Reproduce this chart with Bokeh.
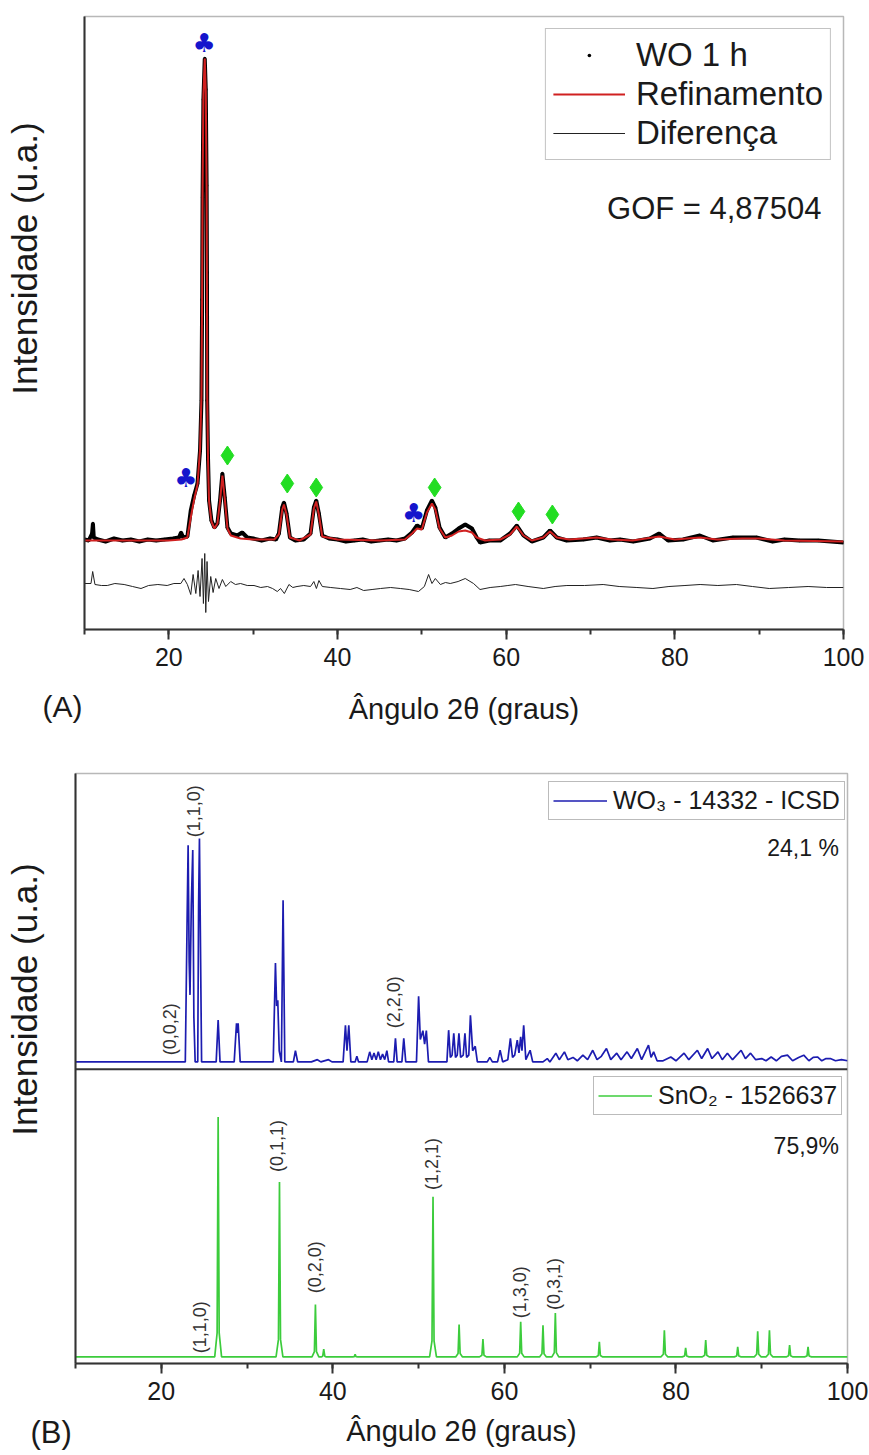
import math
from bokeh.plotting import figure
from bokeh.models import (Range1d, SingleIntervalTicker, FixedTicker, Label,
                          Legend, LegendItem, Span)
from bokeh.layouts import column, row
from bokeh.core.properties import value
from bokeh.embed import file_html
from bokeh.resources import INLINE

FONT = "Liberation Sans"
TXT = "#1a1a1a"
AX = "#333333"

# ---------------- Panel A data (2theta, intensity u.a.) ----------------
obs_x = [10.0, 10.5, 10.9, 11.0, 11.1, 11.6, 12.5, 13.5, 14.5, 15.5, 16.5, 17.5, 18.5, 19.5,
         20.5, 21.2, 21.45, 21.7, 22.2, 22.6, 23.0, 23.4, 23.7, 23.87, 23.95, 24.0, 24.1,
         24.26, 24.38, 24.48, 24.52, 24.55, 24.65, 24.77, 25.05, 25.4, 25.76, 26.07, 26.35,
         26.63, 26.95, 27.35, 28.1, 28.7, 29.3, 30.0, 31.0, 32.0, 32.7, 33.05, 33.45, 33.65,
         33.96, 34.36, 35.0, 36.0, 36.8, 37.2, 37.48, 37.79, 38.19, 39.0, 40.0, 41.0, 42.0,
         43.0, 44.0, 45.0, 46.0, 47.0, 48.0, 48.84, 49.43, 50.0, 50.6, 51.2, 51.6, 52.1,
         52.78, 53.57, 54.36, 55.15, 55.94, 56.5, 56.9, 58.0, 59.3, 60.47, 61.26, 62.05,
         63.04, 64.4, 65.2, 66.0, 67.18, 69.15, 70.73, 72.3, 73.5, 75.07, 77.04, 78.14, 79.2,
         80.98, 82.96, 84.5, 86.9, 89.67, 91.6, 93.0, 94.8, 97.0, 100.0]
obs_y = [90, 89, 96, 106, 92, 90, 88, 91, 89, 90, 88, 90, 89, 90,
         91, 92, 97, 92, 93, 119, 134, 146, 179, 229, 330, 432, 530,
         571, 540, 444, 357, 229, 170, 129, 109, 102, 106, 129, 156,
         132, 102, 96, 94, 97, 92, 91, 89, 91, 90, 96, 122, 127,
         116, 92, 89, 90, 96, 122, 129, 116, 94, 91, 90, 88, 89,
         90, 88, 89, 90, 89, 91, 97, 104, 101, 119, 129, 122, 102,
         92, 96, 101, 105, 101, 92, 87, 89, 89, 96, 104, 94,
         88, 92, 99, 92, 89, 90, 92, 89, 90, 88, 91, 96, 89,
         90, 94, 89, 92, 92, 88, 90, 89, 89, 87]

calc_x = [10.0, 15.0, 20.0, 21.5, 22.2, 22.6, 23.0, 23.4, 23.7, 23.87, 23.95, 24.0, 24.1,
          24.26, 24.38, 24.48, 24.52, 24.55, 24.65, 24.77, 25.05, 25.4, 25.76, 26.07, 26.35,
          26.63, 26.95, 27.35, 28.5, 30.0, 32.5, 33.05, 33.45, 33.65, 33.96, 34.36, 35.5,
          36.8, 37.2, 37.48, 37.79, 38.19, 40.0, 45.0, 48.0, 48.84, 49.43, 50.0, 50.6, 51.2,
          51.6, 52.1, 52.78, 53.57, 54.36, 55.15, 55.94, 56.5, 57.5, 59.3, 60.47, 61.26,
          62.05, 63.04, 64.4, 65.2, 66.0, 67.5, 70.73, 72.5, 75.0, 78.14, 80.0, 83.0, 85.0,
          88.0, 90.0, 93.0, 100.0]
calc_y = [89, 89, 89, 90, 92, 112, 130, 145, 180, 235, 340, 440, 535,
          571, 538, 440, 350, 235, 168, 128, 108, 101, 106, 128, 154,
          131, 101, 94, 91, 90, 90, 95, 120, 125, 115, 92, 89,
          95, 121, 128, 115, 93, 90, 89, 90, 96, 101, 100, 117, 126,
          120, 101, 92, 94, 98, 99, 97, 92, 89, 90, 95, 103,
          94, 89, 92, 98, 92, 90, 92, 90, 89, 93, 90, 92, 90,
          91, 91, 89, 88]

diff_x = [10.0, 10.77, 10.97, 11.24, 12.0, 12.7, 13.6, 14.7, 15.7, 16.7, 17.6, 18.7, 19.8,
          20.6, 21.42, 21.8, 22.2, 22.6, 22.88, 23.2, 23.47, 23.7, 23.94, 24.1, 24.26, 24.38,
          24.53, 24.7, 24.97, 25.25, 25.56, 25.95, 26.35, 26.75, 27.34, 27.9, 28.5, 29.3,
          30.1, 30.9, 31.7, 32.3, 32.86, 33.25, 33.7, 34.24, 34.7, 35.2, 36.0, 36.8, 37.2,
          37.5, 37.8, 38.2, 39.2, 40.35, 41.5, 42.3, 43.1, 44.1, 45.1, 46.3, 47.45, 48.5,
          49.6, 50.3, 50.8, 51.2, 51.6, 52.2, 52.8, 53.37, 54.3, 55.15, 56.13, 56.9, 58.1,
          59.3, 60.2, 61.1, 62.6, 64.4, 65.8, 67.2, 69.3, 71.5, 73.4, 75.5, 77.4, 79.3,
          81.2, 83.0, 85.1, 87.3, 89.2, 91.2, 93.5, 95.8, 98.0, 100.0]
diff_y = [1, 1, 13, 0, -1, -1, 1, 0, -2, -4, -1, 0, -1,
          1, 1, 6, 0, -10, 10, -9, 14, -12, 26, -19, 31, -28,
          23, -17, 8, -8, 6, -4, 5, -2, 3, 0, 1, -1,
          -1, -3, -2, -4, -7, -4, -9, 0, -3, -2, -1, -2, 3,
          -4, 4, -2, -3, -4, -5, -3, -6, -5, -4, -3, -4, -5,
          -7, -2, 10, 1, 6, 0, 2, 1, 3, 6, 1, -5, -3,
          -2, -1, 0, -2, -4, -2, -1, -1, 0, -2, -3, -4, -2,
          -1, 0, -1, 0, -2, -4, -3, -2, -3, -3]

club_x = [24.18, 22.01, 49.03]
club_y = [587, 152, 117]
diam_x = [26.95, 34.05, 37.48, 51.52, 61.46, 65.48]
diam_y = [174, 146, 142, 142, 118, 115]

# ---------------- Panel B data (relative intensity, %) ----------------
wo3_x = [10.0, 22.8, 23.0, 23.13, 23.25, 23.35, 23.5, 23.67, 23.8, 23.95, 24.25, 24.35, 24.45,
         24.55, 24.7, 26.4, 26.63, 26.85, 28.5, 28.77, 28.87, 28.96, 29.2, 33.05, 33.31, 33.45,
         33.58, 33.75, 34.0, 34.2, 34.4, 35.4, 35.64, 35.9, 37.5, 38.2, 38.6, 39.5, 39.9,
         41.2, 41.47, 41.65, 41.86, 42.1, 42.6, 42.8, 43.0, 44.0, 44.3, 44.55, 44.8, 45.05,
         45.3, 45.55, 45.8, 46.05, 46.3, 46.5, 47.1, 47.3, 47.5, 48.05, 48.27, 48.5, 49.75,
         50.0, 50.2, 50.5, 50.7, 50.9, 51.15, 53.3, 53.5, 53.7, 53.9, 54.1, 54.3, 54.5, 54.7,
         54.9, 55.2, 55.4, 55.6, 55.85, 56.04, 56.3, 56.6, 56.85, 58.0, 58.3, 58.6, 59.2,
         59.5, 59.8, 60.4, 60.7, 60.95, 61.2, 61.5, 61.7, 61.9, 62.05, 62.25, 62.5, 63.0,
         63.3, 64.5, 65.0, 65.3, 66.0, 66.4, 67.0, 67.4, 68.0, 68.5, 69.15, 69.7, 70.3, 70.8,
         71.3, 71.9, 72.4, 73.1, 73.6, 74.3, 74.8, 75.5, 76.0, 76.8, 77.1, 77.4, 77.8, 78.5,
         79.4, 80.0, 80.95, 81.5, 82.5, 83.0, 83.7, 84.2, 84.9, 85.4, 86.0, 86.6, 87.6, 88.1,
         88.7, 89.3, 90.0, 90.5, 91.1, 91.7, 92.3, 93.0, 93.6, 94.3, 94.9, 95.5, 96.0, 96.5,
         97.0, 97.5, 98.0, 98.6, 99.3, 100.0]
wo3_y = [0, 0, 60, 97, 45, 30, 70, 94.8, 20, 0, 0, 70, 100,
         60, 0, 0, 18.7, 0, 0, 17.3, 13, 17.3, 0, 0, 44.3, 25,
         27.6, 5, 0, 72.4, 0, 0, 5, 0, 0, 1, 0, 1, 0,
         0, 16.4, 5, 16.4, 0, 0, 2.5, 0, 0, 4.5, 1, 4.0, 1,
         4.5, 1, 3.5, 1, 5, 0, 0, 10.6, 0, 0, 10.6, 0, 0,
         29.4, 10, 14, 8, 14, 0, 0, 14.2, 2, 3, 12.8, 2, 3, 12.8,
         2, 3, 12.8, 2, 3, 20.9, 5, 7, 0, 0, 2, 0, 0,
         5.2, 0, 1, 10.5, 2, 3, 9.7, 4, 11.2, 5, 16.4, 1, 5.2,
         0, 0, 1.5, 0, 3.9, 1, 4.5, 1, 2, 0.5, 3.0, 1, 5.2, 1,
         2.5, 6.0, 1, 3.9, 1, 4.5, 1.5, 6.0, 1, 7.5, 2, 4.5, 0.5, 0.5,
         2.2, 0.5, 3.9, 1, 5.2, 1.5, 6.0, 1.5, 4.5, 1, 3.9, 1, 5.2, 1.5,
         3.9, 1, 1.5, 0.5, 2.2, 0.5, 2.5, 3.0, 0.5, 2, 3.0, 0.5, 2, 2.2,
         0.5, 1.5, 1.5, 0.5, 1, 0.5]

sno2_x = [10.0,
          26.23, 26.51, 26.63, 26.75, 27.03,
          33.38, 33.66, 33.78, 33.90, 34.18,
          37.57, 37.85, 37.97, 38.09, 38.37,
          38.64, 38.82, 38.94, 39.06, 39.24,
          42.3, 42.5, 42.6, 42.7, 42.9,
          51.28, 51.56, 51.68, 51.80, 52.08,
          54.32, 54.60, 54.72, 54.84, 55.12,
          57.1, 57.38, 57.5, 57.62, 57.9,
          61.5, 61.78, 61.9, 62.02, 62.3,
          64.1, 64.38, 64.5, 64.62, 64.9,
          65.54, 65.82, 65.94, 66.06, 66.34,
          70.67, 70.95, 71.07, 71.19, 71.47,
          78.25, 78.53, 78.65, 78.77, 79.05,
          80.73, 81.01, 81.13, 81.25, 81.53,
          83.07, 83.35, 83.47, 83.59, 83.87,
          86.8, 87.08, 87.2, 87.32, 87.6,
          89.13, 89.41, 89.53, 89.65, 89.93,
          90.5, 90.78, 90.9, 91.02, 91.3,
          92.85, 93.13, 93.25, 93.37, 93.65,
          95.0, 95.28, 95.4, 95.52, 95.8,
          100.0]
sno2_y = [0,
          0, 10, 100, 10, 0,
          0, 7.3, 72.9, 7.3, 0,
          0, 2.2, 21.8, 2.2, 0,
          0, 0.3, 3.2, 0.3, 0,
          0, 0.1, 1.1, 0.1, 0,
          0, 6.7, 66.7, 6.7, 0,
          0, 1.4, 13.5, 1.4, 0,
          0, 0.7, 7.4, 0.7, 0,
          0, 1.5, 14.6, 1.5, 0,
          0, 1.3, 13.2, 1.3, 0,
          0, 1.8, 18.3, 1.8, 0,
          0, 0.6, 6.3, 0.6, 0,
          0, 1.1, 11.1, 1.1, 0,
          0, 0.4, 3.8, 0.4, 0,
          0, 0.7, 7.0, 0.7, 0,
          0, 0.4, 4.2, 0.4, 0,
          0, 1.1, 10.7, 1.1, 0,
          0, 1.1, 11.1, 1.1, 0,
          0, 0.5, 4.9, 0.5, 0,
          0, 0.4, 4.2, 0.4, 0,
          0]

wo3_hkl = ["(0,0,2)", "(1,1,0)", "(2,2,0)"]
wo3_hkl_x = [21.07, 23.79, 47.1]
wo3_hkl_y = [3.0, 100.6, 15.1]
sno2_hkl = ["(1,1,0)", "(0,1,1)", "(0,2,0)", "(1,2,1)", "(1,3,0)", "(0,3,1)"]
sno2_hkl_x = [24.57, 33.51, 37.97, 51.57, 61.87, 65.75]
sno2_hkl_y = [1.5, 77.0, 26.5, 69.5, 16.1, 19.5]

# ---------------- layout constants (px) ----------------
TOTAL_W = 868
HA = 733
HB = 1455 - HA
SIDE_A, SIDE_B = 82, 73


def style_axes(p, label_standoff):
    p.xgrid.visible = False
    p.ygrid.visible = False
    p.outline_line_color = "#b8b8b8"
    p.outline_line_width = 1.5
    p.background_fill_color = "white"
    p.border_fill_color = "white"
    xa = p.xaxis[0]
    xa.ticker = SingleIntervalTicker(interval=20, num_minor_ticks=2)
    xa.axis_line_color = AX
    xa.axis_line_width = 2
    xa.major_tick_line_color = AX
    xa.major_tick_line_width = 2
    xa.minor_tick_line_color = AX
    xa.minor_tick_line_width = 2
    xa.major_tick_out = 10
    xa.major_tick_in = 0
    xa.minor_tick_out = 5
    xa.minor_tick_in = 0
    xa.major_label_text_font = FONT
    xa.major_label_text_font_size = "25px"
    xa.major_label_text_color = TXT
    xa.major_label_standoff = 8
    xa.axis_label = "Ângulo 2θ (graus)"
    xa.axis_label_text_font = FONT
    xa.axis_label_text_font_size = "29px"
    xa.axis_label_text_font_style = "normal"
    xa.axis_label_text_color = TXT
    xa.axis_label_standoff = label_standoff
    ya = p.yaxis[0]
    ya.ticker = FixedTicker(ticks=[])
    ya.axis_line_color = AX
    ya.axis_line_width = 2
    ya.major_tick_line_color = None
    ya.minor_tick_line_color = None
    ya.major_tick_out = 0
    ya.minor_tick_out = 0
    ya.major_label_standoff = 0


def side_panel(w, h, ylabel_cy, letter, letter_x, letter_base, letter_size):
    s = figure(width=w, height=h, x_range=Range1d(0, w), y_range=Range1d(0, h),
               output_backend="svg", toolbar_location=None, title=None,
               x_axis_location=None, y_axis_location=None, min_border=0,
               frame_align=False)
    s.outline_line_color = None
    s.xgrid.visible = False
    s.ygrid.visible = False
    s.background_fill_color = "white"
    s.border_fill_color = "white"
    s.text(x=[24], y=[h - ylabel_cy], text=["Intensidade (u.a.)"], angle=math.pi / 2,
           text_align="center", text_baseline="middle", text_font=value(FONT),
           text_font_size=value("35px"), text_color=TXT)
    s.text(x=[letter_x], y=[h - letter_base], text=[letter], text_align="left",
           text_baseline="alphabetic", text_font=value(FONT),
           text_font_size=value(letter_size), text_color=TXT)
    return s


# ---------------- Panel A ----------------
pA = figure(width=TOTAL_W - SIDE_A, height=HA, x_range=Range1d(10, 100),
            y_range=Range1d(0, 613), output_backend="svg", toolbar_location=None, title=None,
            min_border_left=2, min_border_right=25, min_border_top=16,
            min_border_bottom=HA - 629, frame_align=False)
style_axes(pA, 24)

DIFF_OFFSET = 45
pA.line(obs_x, obs_y, line_color="black", line_width=4)
r_obs = pA.scatter(obs_x, obs_y, marker="dot", size=14, color="black")
r_calc = pA.line(calc_x, calc_y, line_color="#d02020", line_width=2)
r_diff = pA.line(diff_x, [v + DIFF_OFFSET for v in diff_y], line_color="#222222",
                 line_width=1)

pA.text(x=club_x, y=club_y, text=["♣"] * len(club_x), text_font=value("DejaVu Sans"),
        text_font_size=value("26px"), text_align="center", text_baseline="middle",
        text_color="#1515cc")
pA.scatter(diam_x, diam_y, marker="diamond", size=19, fill_color="#22dd22",
           line_color="#22dd22")

legA = Legend(items=[LegendItem(label="WO 1 h", renderers=[r_obs]),
                     LegendItem(label="Refinamento", renderers=[r_calc]),
                     LegendItem(label="Diferença", renderers=[r_diff])],
              location="top_right", margin=12, label_text_font=FONT,
              label_text_font_size="33px", label_text_color=TXT,
              glyph_width=72, glyph_height=36, label_height=36, spacing=1,
              padding=7, label_standoff=11, border_line_color="#888888",
              border_line_width=1, background_fill_alpha=1.0)
pA.add_layout(legA)

pA.add_layout(Label(x=97.4, y=421, text="GOF = 4,87504", text_align="right",
                    text_baseline="alphabetic", text_font=FONT, text_font_size="31px",
                    text_color=TXT))

sideA = side_panel(SIDE_A, HA, 258, "(A)", 42, 706, "30px")

# ---------------- Panel B ----------------
pB = figure(width=TOTAL_W - SIDE_B, height=HB, x_range=Range1d(10, 100),
            y_range=Range1d(0, 590), output_backend="svg", toolbar_location=None, title=None,
            min_border_left=2, min_border_right=21, min_border_top=773 - HA,
            min_border_bottom=HB - (773 - HA) - 590, frame_align=False)
style_axes(pB, 12)

SN_BASE, SN_SCALE = 6.6, 2.40
WO_BASE, WO_SCALE = 301.6, 2.234
DIVIDER = 294.3

pB.add_layout(Span(location=DIVIDER, dimension="width", line_color=AX, line_width=2))
r_wo3 = pB.line(wo3_x, [WO_BASE + v * WO_SCALE for v in wo3_y], line_color="#1c1cb0",
                line_width=1.7)
r_sn = pB.line(sno2_x, [SN_BASE + v * SN_SCALE for v in sno2_y], line_color="#3ccc3c",
               line_width=1.7)

pB.text(x=wo3_hkl_x, y=[WO_BASE + v * WO_SCALE for v in wo3_hkl_y], text=wo3_hkl,
        angle=math.pi / 2, text_align="left", text_baseline="middle",
        text_font=value(FONT), text_font_size=value("18px"), text_color="#333333")
pB.text(x=sno2_hkl_x, y=[SN_BASE + v * SN_SCALE for v in sno2_hkl_y], text=sno2_hkl,
        angle=math.pi / 2, text_align="left", text_baseline="middle",
        text_font=value(FONT), text_font_size=value("18px"), text_color="#333333")

legW = Legend(items=[LegendItem(label="WO₃ - 14332 - ICSD", renderers=[r_wo3])],
              location=(473, 543), label_text_font=FONT, label_text_font_size="25px",
              label_text_color=TXT, glyph_width=54, glyph_height=29, label_height=29,
              padding=4, label_standoff=6, border_line_color="#777777",
              border_line_width=1, background_fill_alpha=1.0)
legS = Legend(items=[LegendItem(label="SnO₂ - 1526637", renderers=[r_sn])],
              location=(518, 248), label_text_font=FONT, label_text_font_size="25px",
              label_text_color=TXT, glyph_width=54, glyph_height=29, label_height=29,
              padding=4, label_standoff=6, border_line_color="#777777",
              border_line_width=1, background_fill_alpha=1.0)
pB.add_layout(legW)
pB.add_layout(legS)

pB.add_layout(Label(x=98.99, y=516, text="24,1 %", text_align="right",
                    text_baseline="alphabetic", text_font=FONT, text_font_size="23px",
                    text_color=TXT))
pB.add_layout(Label(x=98.99, y=218, text="75,9%", text_align="right",
                    text_baseline="alphabetic", text_font=FONT, text_font_size="23px",
                    text_color=TXT))

sideB = side_panel(SIDE_B, HB, 999 - HA, "(B)", 30, 1432 - HA, "31px")

layout = column(row(sideA, pA), row(sideB, pB))
open("out.html", "w").write(file_html(layout, INLINE))
